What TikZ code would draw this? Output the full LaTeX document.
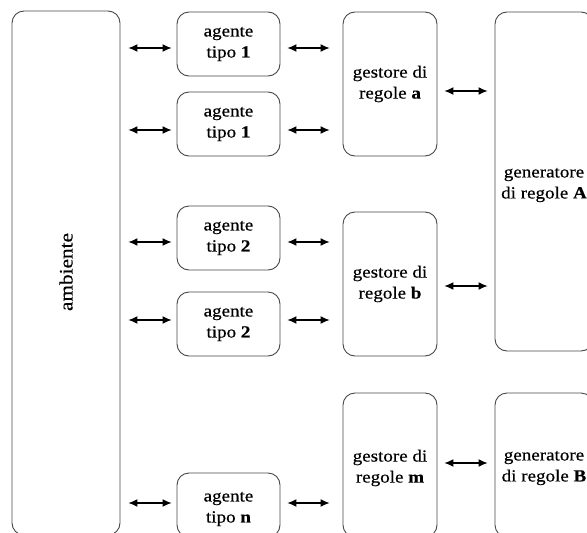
\documentclass[tikz,border=0pt]{standalone}
\usepackage{fontspec}
\setmainfont{Liberation Serif}[FakeStretch=1.12, FakeBold=0.4]
\usetikzlibrary{arrows.meta}
\tikzset{
  box/.style={draw=black!72, line width=0.9pt, rounded corners=12pt, inner sep=0pt,
    align=center, font=\fontsize{17pt}{21pt}\selectfont},
  agentbox/.style={box, minimum width=103pt, minimum height=64pt},
  gestbox/.style={box, minimum width=94pt, minimum height=144pt},
  arr/.style={line width=1.2pt, {Latex[length=9pt,width=8pt]}-{Latex[length=9pt,width=8pt]}},
  lbl/.style={align=center, font=\fontsize{17pt}{21pt}\selectfont, inner sep=0pt}
}
\begin{document}
\begin{tikzpicture}[x=1pt,y=1pt]
\useasboundingbox (0,0) rectangle (587,-533);
\clip (0,0) rectangle (587,-533);
% environment
\node[box, minimum width=108pt, minimum height=524pt] (amb) at (66,-273) {};
\node[lbl, rotate=90, font=\fontsize{19pt}{21pt}\selectfont] (ambt) at (66,-272) {ambiente};
% agents
\node[agentbox] (a1) at (228.5,-44) {agente\\tipo \textbf{1}};
\node[agentbox] (a2) at (228.5,-124) {agente\\tipo \textbf{1}};
\node[agentbox] (a3) at (228.5,-238) {agente\\tipo \textbf{2}};
\node[agentbox] (a4) at (228.5,-324) {agente\\tipo \textbf{2}};
\node[agentbox] (a5) at (228.5,-505) {};
\node[lbl] (a5t) at (228.5,-509) {agente\\tipo \textbf{n}};
% managers
\node[gestbox] (ga) at (390,-84) {gestore di\\regole \textbf{a}};
\node[gestbox] (gb) at (390,-284) {gestore di\\regole \textbf{b}};
\node[gestbox] (gm) at (390,-465) {};
\node[lbl] (gmt) at (390,-468) {gestore di\\regole \textbf{m}};
% generators
\node[box, minimum width=98pt, minimum height=339pt] (genA) at (544,-181.5) {};
\node[lbl] (genAt) at (544,-185) {generatore\\di regole \textbf{A}};
\node[box, minimum width=98pt, minimum height=144pt] (genB) at (544,-465) {};
\node[lbl] (genBt) at (544,-468) {generatore\\di regole \textbf{B}};
% arrows environment <-> agents
\draw[arr, shorten <=8pt, shorten >=5pt] ([yshift=-4pt]amb.east |- a1.west) -- ([yshift=-4pt]a1.west);
\draw[arr, shorten <=8pt, shorten >=5pt] ([yshift=-6pt]amb.east |- a2.west) -- ([yshift=-6pt]a2.west);
\draw[arr, shorten <=8pt, shorten >=5pt] ([yshift=-4pt]amb.east |- a3.west) -- ([yshift=-4pt]a3.west);
\draw[arr, shorten <=8pt, shorten >=5pt] ([yshift=4pt]amb.east |- a4.west) -- ([yshift=4pt]a4.west);
\draw[arr, shorten <=8pt, shorten >=5pt] ([yshift=2pt]amb.east |- a5.west) -- ([yshift=2pt]a5.west);
% arrows agents <-> managers
\draw[arr, shorten <=7pt, shorten >=13pt] ([yshift=-4pt]a1.east) -- ([yshift=-4pt]a1.east -| ga.west);
\draw[arr, shorten <=7pt, shorten >=13pt] ([yshift=-6pt]a2.east) -- ([yshift=-6pt]a2.east -| ga.west);
\draw[arr, shorten <=7pt, shorten >=13pt] ([yshift=-4pt]a3.east) -- ([yshift=-4pt]a3.east -| gb.west);
\draw[arr, shorten <=7pt, shorten >=13pt] ([yshift=4pt]a4.east) -- ([yshift=4pt]a4.east -| gb.west);
\draw[arr, shorten <=7pt, shorten >=13pt] ([yshift=2pt]a5.east) -- ([yshift=2pt]a5.east -| gm.west);
% arrows managers <-> generators
\draw[arr, shorten <=7pt, shorten >=7pt] ([yshift=-7pt]ga.east) -- ([yshift=-7pt]ga.east -| genA.west);
\draw[arr, shorten <=7pt, shorten >=7pt] ([yshift=-2pt]gb.east) -- ([yshift=-2pt]gb.east -| genA.west);
\draw[arr, shorten <=7pt, shorten >=7pt] ([yshift=2pt]gm.east) -- ([yshift=2pt]gm.east -| genB.west);
\end{tikzpicture}
\end{document}
